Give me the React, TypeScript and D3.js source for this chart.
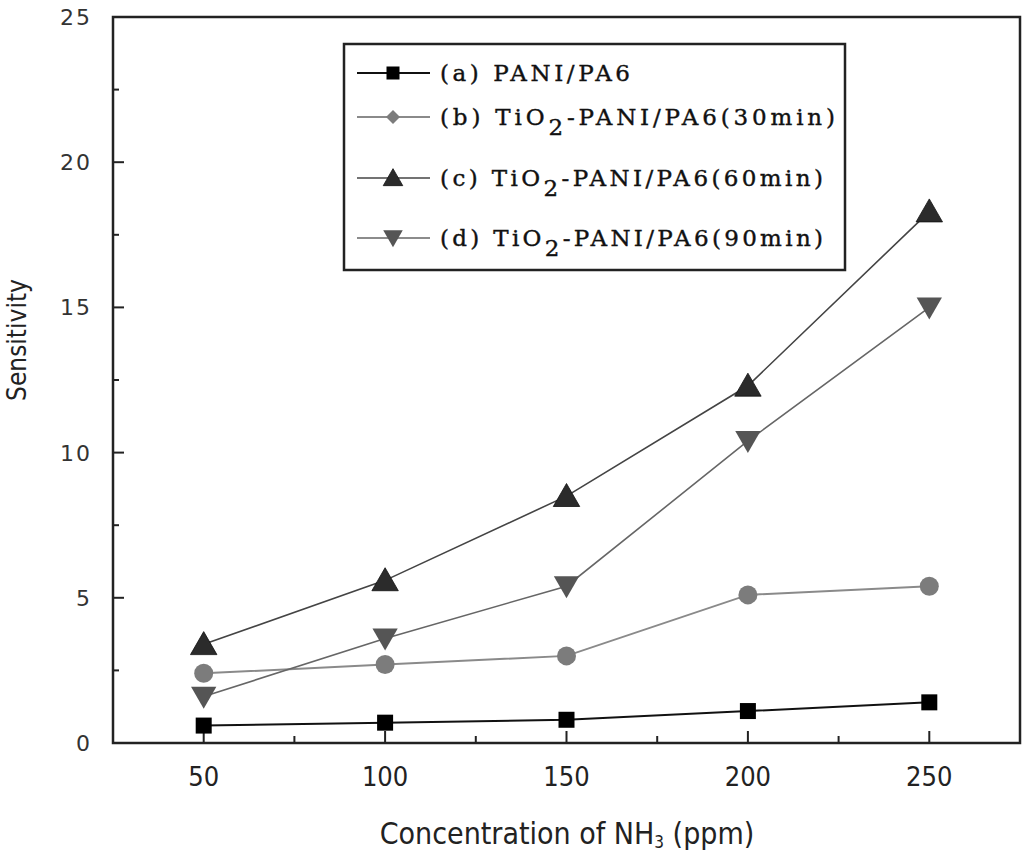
import React from "react";
import * as d3 from "d3";

const concentrations = [50, 100, 150, 200, 250];
const seriesA = [0.6, 0.7, 0.8, 1.1, 1.4];
const seriesB = [2.4, 2.7, 3.0, 5.1, 5.4];
const seriesC = [3.4, 5.6, 8.5, 12.3, 18.3];
const seriesD = [1.6, 3.6, 5.4, 10.4, 15.0];
const xTicks = [50, 100, 150, 200, 250];
const xMinor = [75, 125, 175, 225];
const yTicks = [0, 5, 10, 15, 20, 25];
const yMinor = [2.5, 7.5, 12.5, 17.5, 22.5];

const W = 1024, H = 858;
const L = 113, R = 1020, T = 17, B = 743;

type S = { key: string; values: number[]; line: string; lw: number; fill: string; shape: string; pre: string; sub?: string; post?: string; len: number };
const series: S[] = [
  { key: "a", values: seriesA, line: "#111", lw: 2, fill: "#000", shape: "square", pre: "(a) PANI/PA6", len: 190 },
  { key: "b", values: seriesB, line: "#8a8a8a", lw: 2, fill: "#7c7c7c", shape: "circle", pre: "(b)  TiO", sub: "2", post: "-PANI/PA6(30min)", len: 395 },
  { key: "c", values: seriesC, line: "#444", lw: 1.6, fill: "#2b2b2b", shape: "up", pre: "(c) TiO", sub: "2", post: "-PANI/PA6(60min)", len: 383 },
  { key: "d", values: seriesD, line: "#666", lw: 1.6, fill: "#555", shape: "down", pre: "(d) TiO", sub: "2", post: "-PANI/PA6(90min)", len: 383 },
];

function marker(shape: string, cx: number, cy: number, fill: string, s: number, legendShape?: string) {
  const sh = legendShape || shape;
  if (sh === "square") return <rect x={cx - s / 2} y={cy - s / 2} width={s} height={s} fill={fill} />;
  if (sh === "circle") return <circle cx={cx} cy={cy} r={s / 2} fill={fill} />;
  if (sh === "diamond") return <path d={`M${cx},${cy - s / 2}L${cx + s / 2},${cy}L${cx},${cy + s / 2}L${cx - s / 2},${cy}Z`} fill={fill} />;
  const w = s * 1.15, h = s;
  if (sh === "up") return <path d={`M${cx},${cy - h * 0.55}L${cx + w / 2},${cy + h * 0.45}L${cx - w / 2},${cy + h * 0.45}Z`} fill={fill} stroke="#111" strokeWidth={0.8} />;
  return <path d={`M${cx},${cy + h * 0.55}L${cx + w / 2},${cy - h * 0.45}L${cx - w / 2},${cy - h * 0.45}Z`} fill={fill} />;
}

export default function App() {
  const x = d3.scaleLinear().domain([25, 275]).range([L, R]);
  const y = d3.scaleLinear().domain([0, 25]).range([B, T]);
  const line = d3.line<number>().x((_, i) => x(concentrations[i])).y((v) => y(v));
  const sizes: Record<string, number> = { square: 16, circle: 19, up: 23, down: 22 };
  const legendY = [73, 117, 178, 238];
  return (
    <svg width={W} height={H} style={{ position: "absolute", left: 0, top: 0, background: "#fff" }}>
      <rect x={0} y={0} width={W} height={H} fill="#fff" />
      <rect x={L} y={T} width={R - L} height={B - T} fill="none" stroke="#222" strokeWidth={2.5} />
      {xTicks.map((t) => (
        <g key={"xt" + t}>
          <line x1={x(t)} x2={x(t)} y1={B} y2={B - 12} stroke="#222" strokeWidth={2} />
          <text x={x(t)} y={786} textAnchor="middle" fontFamily="'DejaVu Sans Condensed', 'DejaVu Sans'" fontSize={27} fill="#222">{t}</text>
        </g>
      ))}
      {xMinor.map((t) => (
        <line key={"xm" + t} x1={x(t)} x2={x(t)} y1={B} y2={B - 7} stroke="#222" strokeWidth={2} />
      ))}
      {yTicks.map((t) => (
        <g key={"yt" + t}>
          <line x1={L} x2={L + 11} y1={y(t)} y2={y(t)} stroke="#222" strokeWidth={2} />
          <text x={92} y={y(t) + 8} textAnchor="end" fontFamily="'DejaVu Sans'" fontSize={22} letterSpacing={2} fill="#333">{t}</text>
        </g>
      ))}
      {yMinor.map((t) => (
        <line key={"ym" + t} x1={L} x2={L + 6} y1={y(t)} y2={y(t)} stroke="#222" strokeWidth={2} />
      ))}
      <text transform="translate(26,340) rotate(-90)" textAnchor="middle" fontFamily="'DejaVu Sans Condensed', 'DejaVu Sans'" fontSize={26} fill="#222">Sensitivity</text>
      <text x={567} y={844} textAnchor="middle" fontFamily="'DejaVu Sans Condensed', 'DejaVu Sans'" fontSize={30} fill="#222">
        Concentration of NH<tspan fontSize={17} dy={4}>3</tspan><tspan dy={-4}> (ppm)</tspan>
      </text>
      {series.map((s) => (
        <g key={s.key}>
          <path d={line(s.values) || ""} fill="none" stroke={s.line} strokeWidth={s.lw} />
          {s.values.map((v, i) => (
            <g key={i}>{marker(s.shape, x(concentrations[i]), y(v), s.fill, sizes[s.shape])}</g>
          ))}
        </g>
      ))}
      <rect x={344} y={44} width={501} height={226} fill="#fff" stroke="#222" strokeWidth={2.5} />
      {series.map((s, i) => (
        <g key={"lg" + s.key}>
          <line x1={357} x2={430} y1={legendY[i]} y2={legendY[i]} stroke={s.line} strokeWidth={s.lw} />
          {marker(s.shape, 393, legendY[i], s.fill, s.shape === "square" ? 13 : s.shape === "circle" ? 14 : 17, s.shape === "circle" ? "diamond" : undefined)}
          <text x={440} y={legendY[i] + 8} fontFamily="'DejaVu Serif'" fontSize={23} fill="#111" stroke="#111" strokeWidth={0.4} textLength={s.len} lengthAdjust="spacing">
            {s.pre}
            {s.sub ? <tspan dy={10}>{s.sub}</tspan> : null}
            {s.post ? <tspan dy={-10}>{s.post}</tspan> : null}
          </text>
        </g>
      ))}
    </svg>
  );
}
